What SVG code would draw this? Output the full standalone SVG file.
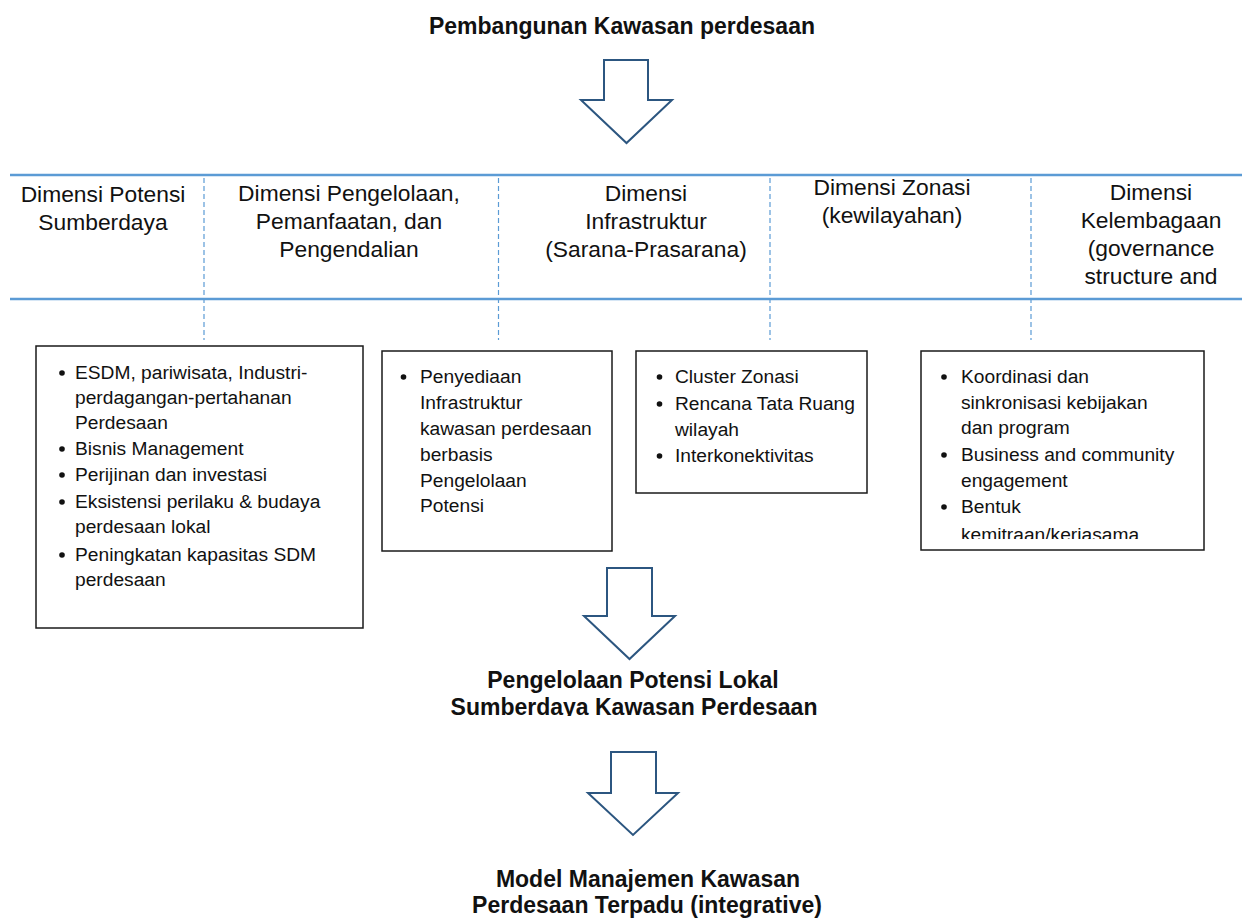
<svg xmlns="http://www.w3.org/2000/svg" width="1242" height="919" viewBox="0 0 1242 919">
<style>
.bg{fill:#ffffff}
.hline{stroke:#5B9BD5;stroke-width:2.5;fill:none}
.dash{stroke:#5B9BD5;stroke-width:1.2;stroke-dasharray:5,3;fill:none}
.box{fill:#ffffff;stroke:#1a1a1a;stroke-width:1.5}
.arrow{fill:#ffffff;stroke:#2C5680;stroke-width:2;stroke-linejoin:miter}
.title{font-family:"Liberation Sans",Arial,sans-serif;font-weight:bold;font-size:23px;fill:#111;text-anchor:middle}
.head{font-family:"Liberation Sans",Arial,sans-serif;font-size:22.8px;fill:#111;text-anchor:middle}
.item{font-family:"Liberation Sans",Arial,sans-serif;font-size:19.2px;fill:#111}
.dot{fill:#111}
</style>
<defs>
<clipPath id="clipBox4"><rect x="921" y="351" width="283" height="188"/></clipPath>
<clipPath id="clipMid"><rect x="400" y="650" width="460" height="66"/></clipPath>
</defs>
<rect class="bg" x="0" y="0" width="1242" height="919"/>

<g id="title-top">
<text class="title" x="622" y="34">Pembangunan Kawasan perdesaan</text>
</g>

<g id="header-table">
<line class="hline" x1="10" y1="175" x2="1242" y2="175"/>
<line class="hline" x1="10" y1="299" x2="1242" y2="299"/>
<line class="dash" x1="204" y1="178" x2="204" y2="340"/>
<line class="dash" x1="498.5" y1="178" x2="498.5" y2="340"/>
<line class="dash" x1="770" y1="178" x2="770" y2="340"/>
<line class="dash" x1="1031" y1="178" x2="1031" y2="340"/>
</g>

<g id="dim-potensi">
<text class="head" x="103" y="202">Dimensi Potensi</text>
<text class="head" x="103" y="230">Sumberdaya</text>
</g>
<g id="dim-pengelolaan">
<text class="head" x="349" y="201">Dimensi Pengelolaan,</text>
<text class="head" x="349" y="229">Pemanfaatan, dan</text>
<text class="head" x="349" y="257">Pengendalian</text>
</g>
<g id="dim-infrastruktur">
<text class="head" x="646" y="201">Dimensi</text>
<text class="head" x="646" y="229">Infrastruktur</text>
<text class="head" x="646" y="257">(Sarana-Prasarana)</text>
</g>
<g id="dim-zonasi">
<text class="head" x="892" y="195">Dimensi Zonasi</text>
<text class="head" x="892" y="223">(kewilayahan)</text>
</g>
<g id="dim-kelembagaan">
<text class="head" x="1151" y="200">Dimensi</text>
<text class="head" x="1151" y="228">Kelembagaan</text>
<text class="head" x="1151" y="256">(governance</text>
<text class="head" x="1151" y="284">structure and</text>
</g>

<g id="box-potensi">
<rect class="box" x="36" y="346" width="327" height="282"/>
<circle class="dot" cx="62" cy="373" r="2.8"/>
<text class="item" x="75" y="379">ESDM, pariwisata, Industri-</text>
<text class="item" x="75" y="404">perdagangan-pertahanan</text>
<text class="item" x="75" y="429">Perdesaan</text>
<circle class="dot" cx="62" cy="449" r="2.8"/>
<text class="item" x="75" y="455">Bisnis Management</text>
<circle class="dot" cx="62" cy="475" r="2.8"/>
<text class="item" x="75" y="481">Perijinan dan investasi</text>
<circle class="dot" cx="62" cy="502" r="2.8"/>
<text class="item" x="75" y="508">Eksistensi perilaku &amp; budaya</text>
<text class="item" x="75" y="533">perdesaan lokal</text>
<circle class="dot" cx="62" cy="555" r="2.8"/>
<text class="item" x="75" y="561">Peningkatan kapasitas SDM</text>
<text class="item" x="75" y="586">perdesaan</text>
</g>

<g id="box-infrastruktur">
<rect class="box" x="382" y="351" width="230" height="200"/>
<circle class="dot" cx="403.5" cy="377" r="2.8"/>
<text class="item" x="420" y="383">Penyediaan</text>
<text class="item" x="420" y="409">Infrastruktur</text>
<text class="item" x="420" y="435">kawasan perdesaan</text>
<text class="item" x="420" y="461">berbasis</text>
<text class="item" x="420" y="487">Pengelolaan</text>
<text class="item" x="420" y="512">Potensi</text>
</g>

<g id="box-zonasi">
<rect class="box" x="636" y="351" width="231" height="142"/>
<circle class="dot" cx="659.5" cy="377" r="2.8"/>
<text class="item" x="675" y="383">Cluster Zonasi</text>
<circle class="dot" cx="659.5" cy="404" r="2.8"/>
<text class="item" x="675" y="410">Rencana Tata Ruang</text>
<text class="item" x="675" y="436">wilayah</text>
<circle class="dot" cx="659.5" cy="456" r="2.8"/>
<text class="item" x="675" y="462">Interkonektivitas</text>
</g>

<g id="box-kelembagaan">
<rect class="box" x="921" y="351" width="283" height="199"/>
<g clip-path="url(#clipBox4)">
<circle class="dot" cx="944" cy="377" r="2.8"/>
<text class="item" x="961" y="383">Koordinasi dan</text>
<text class="item" x="961" y="409">sinkronisasi kebijakan</text>
<text class="item" x="961" y="434">dan program</text>
<circle class="dot" cx="944" cy="455" r="2.8"/>
<text class="item" x="961" y="461">Business and community</text>
<text class="item" x="961" y="487">engagement</text>
<circle class="dot" cx="944" cy="507" r="2.8"/>
<text class="item" x="961" y="513">Bentuk</text>
<text class="item" x="961" y="541">kemitraan/kerjasama</text>
</g>
</g>

<g id="pengelolaan-lokal">
<text class="title" x="633" y="688">Pengelolaan Potensi Lokal</text>
<g clip-path="url(#clipMid)">
<text class="title" x="634" y="715">Sumberdaya Kawasan Perdesaan</text>
</g>
</g>

<g id="model-manajemen">
<text class="title" x="648" y="887">Model Manajemen Kawasan</text>
<text class="title" x="647" y="913">Perdesaan Terpadu (integrative)</text>
</g>

<g id="connectors">
<polygon class="arrow" points="604,60 648,60 648,100 672,100 626.5,143 581,100 604,100"/>
<polygon class="arrow" points="607,568 652,568 652,616 675,616 629.5,659 584,616 607,616"/>
<polygon class="arrow" points="611,752 656,752 656,793 678,793 633,835 588,793 611,793"/>
</g>
</svg>
